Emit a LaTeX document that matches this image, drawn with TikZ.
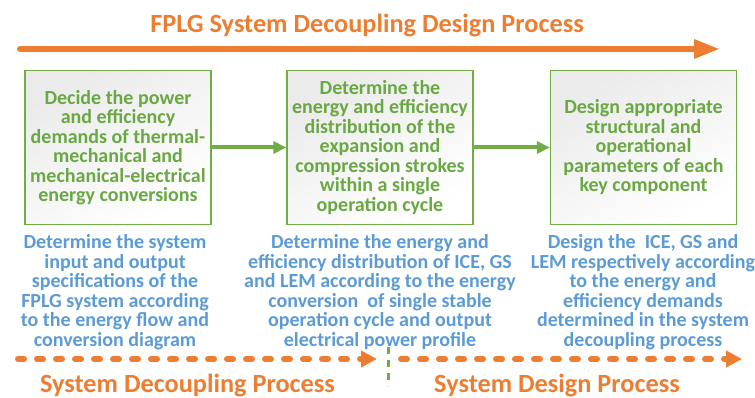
\documentclass[tikz,border=0pt]{standalone}
\usepackage{fontspec}
\setmainfont{Carlito}
\usetikzlibrary{arrows.meta}
\definecolor{orng}{HTML}{ED7D31}
\definecolor{grn}{HTML}{70AD47}
\definecolor{gtxt}{HTML}{6AA843}
\definecolor{blu}{HTML}{5B9BD5}
\begin{document}
\begin{tikzpicture}[x=1pt,y=-1pt,
  stepbox/.style={draw=grn, line width=1.3pt, minimum width=186pt, minimum height=154pt,
    inner sep=0pt, align=center, text=gtxt, font=\fontsize{20}{19.5}\selectfont\bfseries,
    top color=black!8, bottom color=white, shading angle=30},
  bluetext/.style={align=center, text=blu, inner sep=0pt, font=\fontsize{20}{19.5}\selectfont\bfseries},
  bigtitle/.style={text=orng, inner sep=0pt, font=\fontsize{26.3}{30}\selectfont\bfseries},
  garrow/.style={draw=grn, line width=4pt, -{Triangle[length=13pt,width=12pt]}},
  toparrow/.style={draw=orng, line width=6pt, line cap=round, -{Triangle[length=26pt,width=18pt]}},
  dotarrow/.style={draw=orng, line width=6pt, line cap=round, dash pattern=on 6pt off 13pt, -{Triangle[length=16pt,width=16pt]}},
  gdash/.style={draw=grn, line width=3pt, dash pattern=on 7pt off 6pt}
]
\useasboundingbox (0,0) rectangle (755,398);

\node[bigtitle, anchor=base] (title) at (367,32.5) {FPLG System Decoupling Design Process};
\coordinate (ts) at (20,49);
\coordinate (te) at (720,49);
\draw[toparrow] (ts) -- (te);

\node[stepbox] (b1) at (118,147.5) {Decide the power\\and efficiency\\demands of thermal-\\mechanical and\\mechanical-electrical\\energy conversions};
\node[stepbox] (b2) at (380,147.5) {Determine the\\energy and efficiency\\distribution of the\\expansion and\\compression strokes\\within a single\\operation cycle};
\node[stepbox] (b3) at (643.5,147.5) {Design appropriate\\structural and\\operational\\parameters of each\\key component};

\draw[garrow] (b1.east) -- (b2.west);
\draw[garrow] (b2.east) -- (b3.west);

\node[bluetext] (t1) at (115,292) {Determine the system\\input and output\\specifications of the\\FPLG system according\\to the energy flow and\\conversion diagram};
\node[bluetext] (t2) at (380,292) {Determine the energy and\\efficiency distribution of ICE, GS\\and LEM according to the energy\\conversion~ of single stable\\operation cycle and output\\electrical power profile};
\node[bluetext] (t3) at (643,292) {Design the~ ICE, GS and\\LEM respectively according\\to the energy and\\efficiency demands\\determined in the system\\decoupling process};

\coordinate (d1s) at (18,359);
\coordinate (d1e) at (377,359);
\coordinate (d2s) at (401,359);
\coordinate (d2e) at (742,359);
\draw[dotarrow] (d1s) -- (d1e);
\draw[dotarrow] (d2s) -- (d2e);
\coordinate (gs) at (388,347);
\coordinate (ge) at (388,386);
\draw[gdash] (gs) -- (ge);

\node[bigtitle, anchor=base] (l1) at (187.5,392) {System Decoupling Process};
\node[bigtitle, anchor=base] (l2) at (557,392) {System Design Process};
\end{tikzpicture}
\end{document}
